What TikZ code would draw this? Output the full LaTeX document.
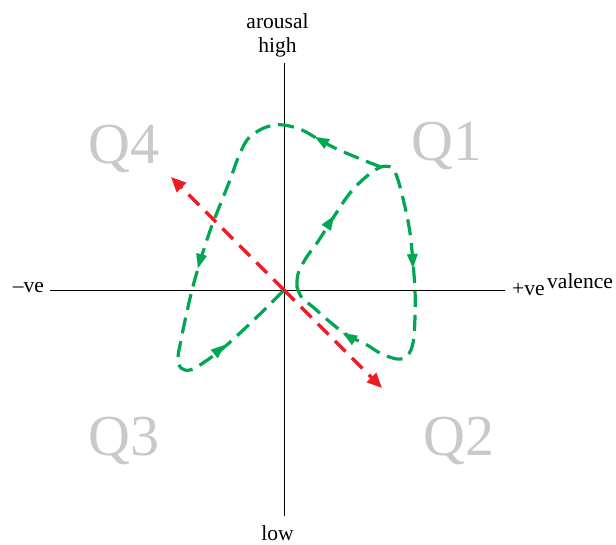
\documentclass[tikz,border=0pt]{standalone}
\usepackage{fontspec}
\setmainfont{Liberation Serif}
\usetikzlibrary{arrows.meta}
\definecolor{TrajGreen}{RGB}{0,166,81}
\definecolor{DirRed}{RGB}{237,28,36}
\definecolor{QuadGray}{RGB}{200,201,203}

\begin{document}
\begin{tikzpicture}[x=1pt, y=-1pt,
		traj/.style={TrajGreen, line width=3.2pt, dash pattern=on 16pt off 8pt},
		dir/.style={DirRed, line width=3.2pt, dash pattern=on 15pt off 9pt, -{Triangle[length=15pt,width=13pt]}},
		tip/.style={TrajGreen, line width=0.1pt, -{Triangle[length=14pt,width=11pt]}},
		quad/.style={QuadGray, anchor=base, inner sep=0pt, font=\fontsize{58}{60}\selectfont},
		lbl/.style={inner sep=0pt, font=\fontsize{21.5}{24}\selectfont}]
			\useasboundingbox (0,0) rectangle (616,544);
			\coordinate (O) at (284,290);
			\coordinate (L) at (50,290);
			\coordinate (R) at (505,290);
			\coordinate (T) at (284,63);
			\coordinate (B) at (284,516);
			\draw[line width=0.8pt] (L) -- (R);
			\draw[line width=0.8pt] (B) -- (T);
			\node[lbl, anchor=base east] (neg) at (44,292) {--ve};
			\node[lbl, anchor=base west] (pos) at (512,295) {+ve};
			\node[lbl, anchor=base west] (valence) at (547,288) {valence};
			\node[lbl, anchor=base] (arousal) at (277.5,28) {arousal};
			\node[lbl, anchor=base] (high) at (277.5,52) {high};
			\node[lbl, anchor=base] (low) at (277.5,540) {low};
			\node[quad] (q1) at (447,160) {Q1};
			\node[quad] (q2) at (459,455) {Q2};
			\node[quad] (q3) at (124,455) {Q3};
			\node[quad] (q4) at (124,163) {Q4};
			\coordinate (UL) at (171,177);
			\coordinate (LR) at (382,388);
			\draw[dir] (O) -- (UL);
			\draw[dir] (O) -- (LR);
			\draw[traj] plot[smooth, tension=0.6] coordinates {(297,287) (298,274) (306,258) (317,243) (333,218) (350,193) (367,176) (381,167) (392,168) (398,180) (405,207) (410,233) (413,263) (415,290) (415,317) (413,343) (407,356) (397,359) (380,353) (367,345) (347,335) (330,322) (313,307) (302,298) (297,287)};
			\draw[traj] plot[smooth, tension=0.6] coordinates {(381,167) (363,160) (337,149) (318,139) (302,130) (284,125) (270,126) (258,131) (247,140) (238,158) (230,180) (220,205) (211,228) (203,252) (197,272) (192,290) (186,316) (181,340) (178,358) (181,368) (190,370) (203,363) (222,349) (240,333) (260,314) (284,290)};
			\draw[tip] (326.3,227.6) -- (334,216);
			\draw[tip] (327.2,144) -- (315,137);
			\draw[tip] (412.3,254) -- (413,268);
			\draw[tip] (354.9,340.4) -- (343,333);
			\draw[tip] (201.6,254.5) -- (198,268);
			\draw[tip] (214.2,354) -- (225,345);
		\end{tikzpicture}
\end{document}
